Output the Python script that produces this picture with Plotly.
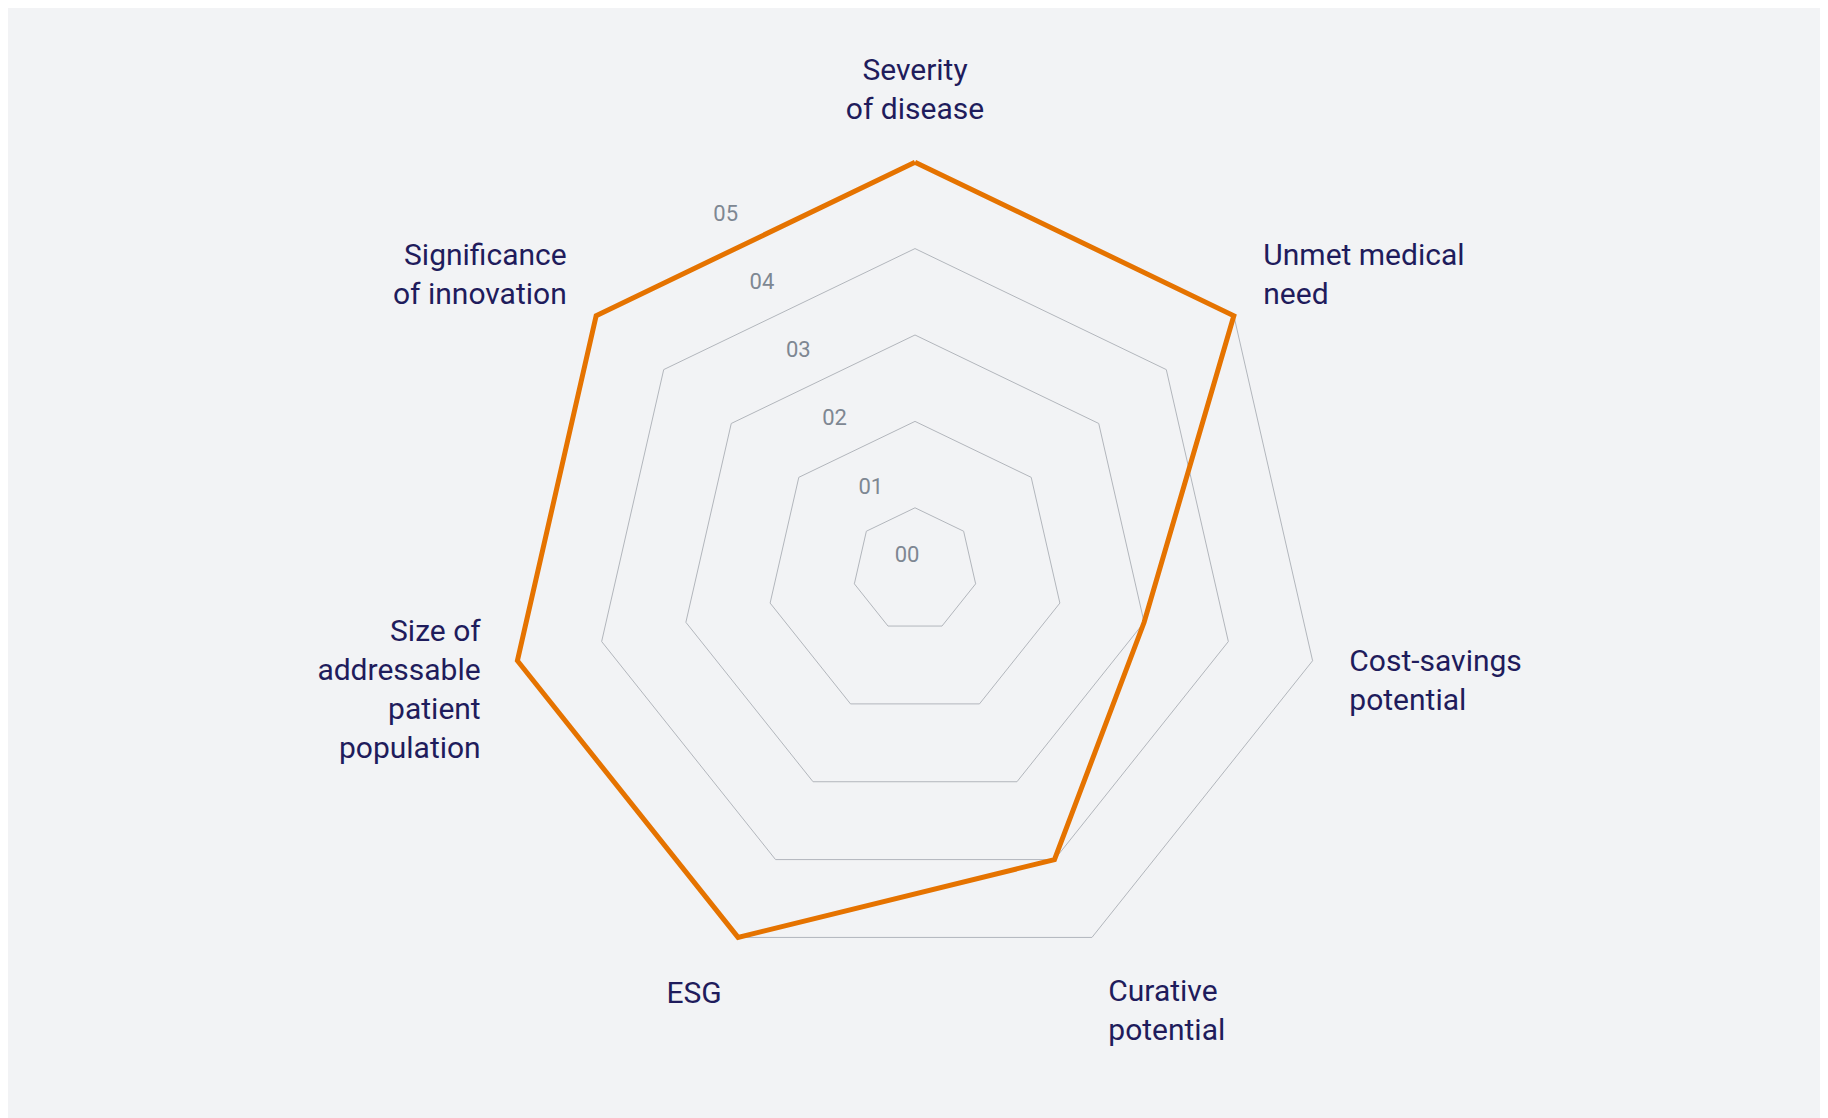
import plotly.graph_objects as go

# radar categories, clockwise from the top
categories = [
    "Severity<br>of disease",
    "Unmet medical<br>need",
    "Cost-savings<br>potential",
    "Curative<br>potential",
    "ESG",
    "Size of<br>addressable<br>patient<br>population",
    "Significance<br>of innovation",
]
scores = [5, 5, 3, 4, 5, 5, 5]

# rings drawn at these values
ring_vals = [1, 2, 3, 4, 5]
# score labels
tick_vals = [0, 1, 2, 3, 4, 5]
tick_text = ["00", "01", "02", "03", "04", "05"]

bg = "#f2f3f5"
navy = "#1f1c5c"
orange = "#e57300"
grid = "#b2b6bc"
tick_grey = "#7e8792"

W, H = 1828, 1118
# page has an 8px body margin, so the centre is shifted to compensate
cx, cy = 907, 556


def domain(x0, y0, rad):
    return dict(x=[(x0 - rad) / W, (x0 + rad) / W], y=[(y0 - rad) / H, (y0 + rad) / H])


fig = go.Figure()
fig.add_trace(go.Scatterpolar(
    r=scores + scores[:1],
    theta=categories + categories[:1],
    mode="lines",
    line=dict(color=orange, width=5),
    hoverinfo="skip",
    showlegend=False,
))
# empty trace so the overlay polar (only used for the 00-05 labels) gets drawn
fig.add_trace(go.Scatterpolar(r=[], theta=[], subplot="polar2", showlegend=False))

fig.update_layout(
    width=W,
    height=H,
    paper_bgcolor=bg,
    plot_bgcolor=bg,
    margin=dict(l=0, r=0, t=0, b=0),
    font=dict(family="Roboto", color=navy),
    polar=dict(
        domain=domain(cx, cy, 413),
        bgcolor=bg,
        gridshape="linear",
        radialaxis=dict(
            range=[0.28, 5.06],
            tickvals=ring_vals,
            showticklabels=False,
            showline=False,
            ticks="",
            gridcolor=grid,
            gridwidth=1.3,
            layer="below traces",
        ),
        angularaxis=dict(
            direction="clockwise",
            rotation=90,
            showgrid=False,
            showline=False,
            ticks="outside",
            ticklen=26,
            tickcolor="rgba(0,0,0,0)",
            tickfont=dict(size=30, color=navy, family="Roboto"),
        ),
    ),
    polar2=dict(
        domain=domain(cx - 21, cy - 4, 408),
        bgcolor="rgba(0,0,0,0)",
        radialaxis=dict(
            range=[-0.26, 5.02],
            tickvals=tick_vals,
            ticktext=tick_text,
            angle=118,
            tickangle=118,
            showline=False,
            showgrid=False,
            ticks="",
            tickfont=dict(size=22, color=tick_grey, family="Roboto"),
        ),
        angularaxis=dict(visible=False),
    ),
)

fig.write_html("out.html")
